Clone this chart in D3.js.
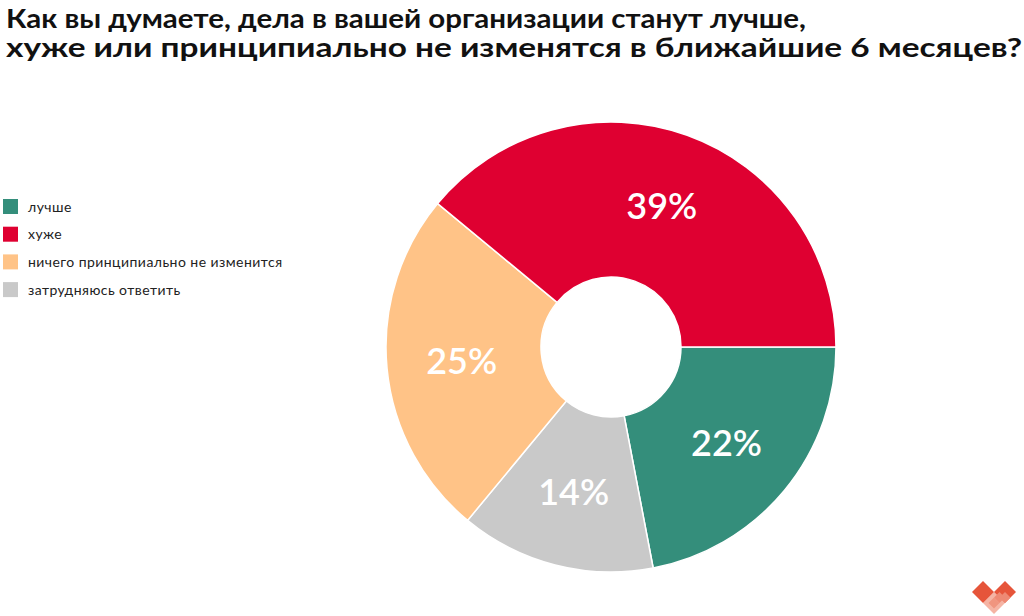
<!DOCTYPE html>
<html><head><meta charset="utf-8">
<script src="https://cdn.jsdelivr.net/npm/d3@7"></script>
<style>
html,body{margin:0;padding:0;background:#fff;}
svg{display:block;}
</style></head>
<body>
<svg id="chart" width="1024" height="616"></svg>
<script>
const titleLines = ["Как вы думаете, дела в вашей организации станут лучше,", "хуже или принципиально не изменятся в ближайшие 6 месяцев?"];
const categories = ["лучше", "хуже", "ничего принципиально не изменится", "затрудняюсь ответить"];
const values = [22, 39, 25, 14];
const colors = ["#348E7B", "#DF0031", "#FFC387", "#C9C9C9"];
const pieOrder = [0, 3, 2, 1];

const svg = d3.select("#chart");
const cx = 611, cy = 347, rOuter = 225, rInner = 70;

// Title (one text element, two lines)
const titleWidths = [800, 1016];
const title = svg.append("text")
  .attr("font-family", "'Lato', 'Open Sans', sans-serif").attr("font-weight", 700)
  .attr("font-size", 27.5).attr("fill", "#111");
title.selectAll("tspan").data(titleLines).join("tspan")
  .attr("x", 6).attr("y", (d, i) => 28 + i * 29)
  .attr("textLength", (d, i) => titleWidths[i]).attr("lengthAdjust", "spacingAndGlyphs")
  .text(d => d);

// Legend
const legend = svg.append("g").attr("transform", "translate(3,199)");
const li = legend.selectAll("g").data(categories).join("g")
  .attr("transform", (d, i) => `translate(0,${i * 27.7})`);
li.append("rect").attr("width", 15).attr("height", 15).attr("fill", (d, i) => colors[i]);
li.append("text").attr("x", 25).attr("y", 12.5).text(d => d)
  .attr("font-family", "'Lato', sans-serif").attr("font-size", 14).attr("letter-spacing", 0.45).attr("fill", "#222");

// Pie
const pieData = pieOrder.map(i => ({ i, cat: categories[i], v: values[i], c: colors[i] }));
const pie = d3.pie().value(d => d.v).sort(null)
  .startAngle(Math.PI / 2).endAngle(Math.PI / 2 + 2 * Math.PI);
const arc = d3.arc().innerRadius(rInner).outerRadius(rOuter);
const labelArc = d3.arc().innerRadius(150).outerRadius(150);
const g = svg.append("g").attr("transform", `translate(${cx},${cy})`);
const arcs = pie(pieData);
g.selectAll("path").data(arcs).join("path")
  .attr("d", arc).attr("fill", d => d.data.c)
  .attr("stroke", "#fff").attr("stroke-width", 1.5);
g.selectAll("text").data(arcs).join("text")
  .attr("transform", d => `translate(${labelArc.centroid(d)})`)
  .attr("text-anchor", "middle").attr("dy", "0.36em")
  .attr("font-family", "'Lato', sans-serif").attr("font-weight", 600)
  .attr("font-size", 36).attr("fill", "#fff")
  .text(d => d.data.v + "%");

// Logo
const logo = svg.append("g").attr("transform", "translate(994,592)");
const dmd = (x, y, h) => `M${x},${y - h}L${x + h},${y}L${x},${y + h}L${x - h},${y}Z`;
logo.append("path").attr("d", dmd(0, 11, 11)).attr("fill", "#F5B4A4");
logo.append("path").attr("d", dmd(-11, 0, 11)).attr("fill", "#E6553A");
logo.append("path").attr("d", dmd(11, 0, 11)).attr("fill", "#E6553A");
logo.append("path").attr("d", dmd(5.5, 5.5, 5.5)).attr("fill", "#EE8A74");
logo.append("path").attr("d", dmd(11, 5.5, 5.5)).attr("fill", "#EE8A74");
logo.append("path").attr("d", dmd(0, 11, 5.5)).attr("fill", "#F0957F");
</script>
</body></html>
